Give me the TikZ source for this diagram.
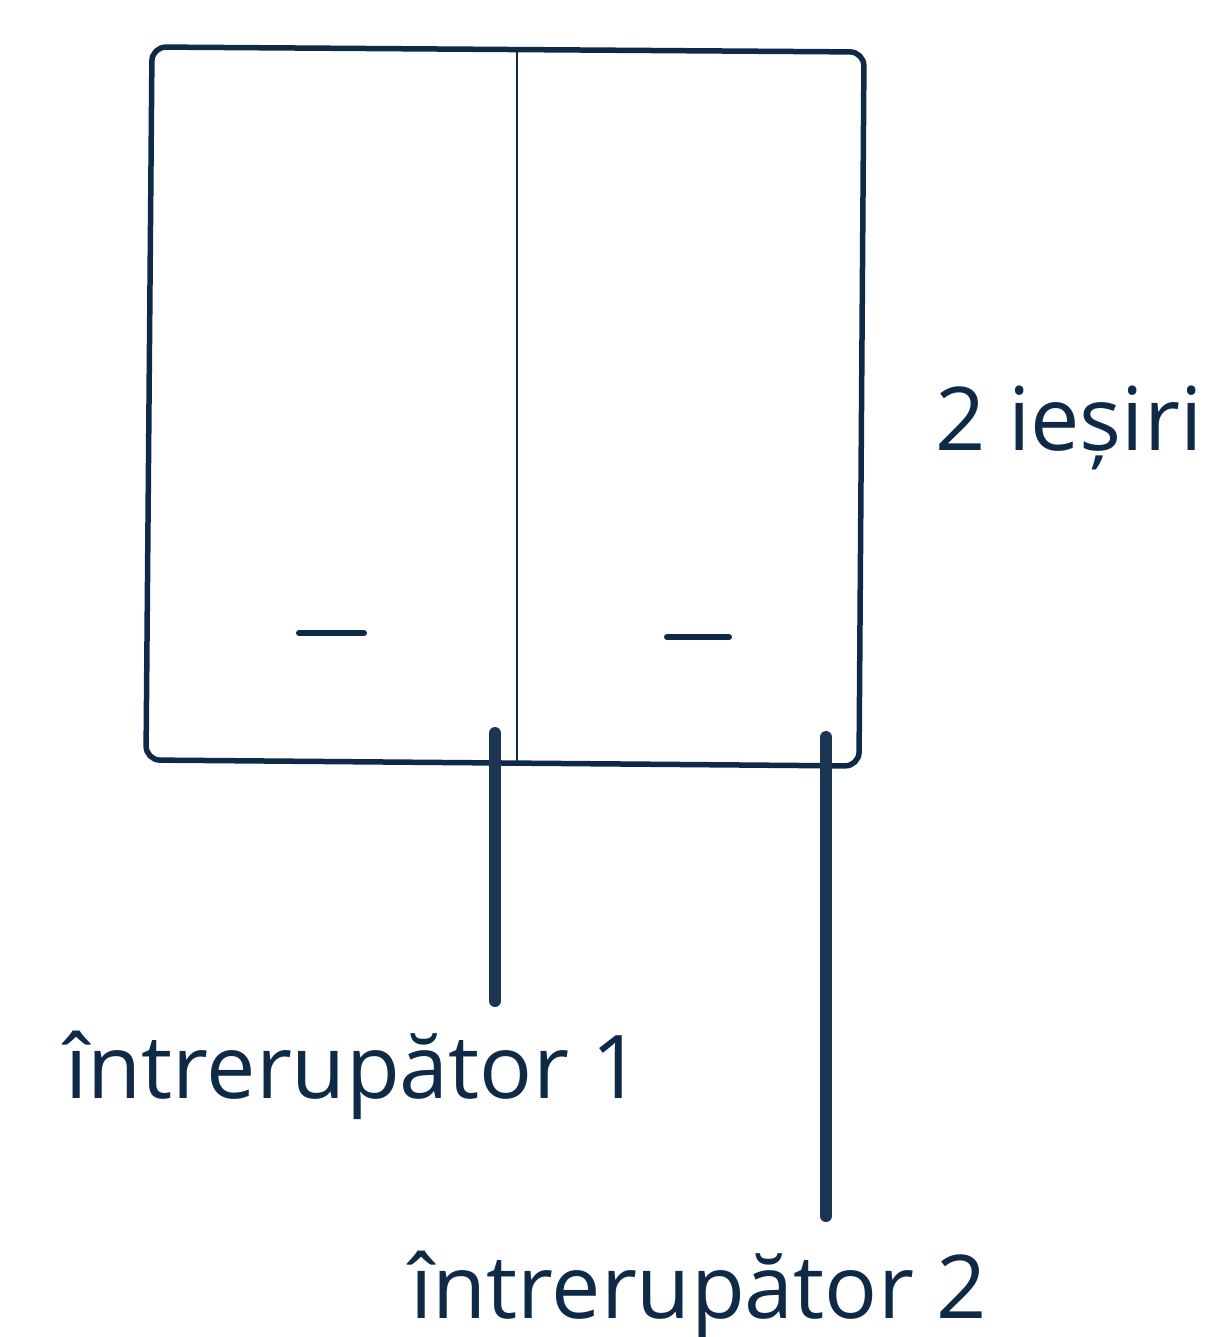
\documentclass[tikz,border=0pt]{standalone}
\usepackage{fontspec}
\setmainfont{Open Sans}
\definecolor{navy}{HTML}{0E2A47}
\definecolor{leadblue}{HTML}{1C3553}
\begin{document}
\begin{tikzpicture}[x=1pt,y=-1pt,
  lbl/.style={anchor=base west,inner sep=0pt,text=navy,font=\fontsize{88}{96}\selectfont},
  leader/.style={draw=leadblue,line width=12pt,line cap=round}]
\useasboundingbox (0,0) rectangle (1225,1337);

% switch plate
\coordinate (tl) at (152,47);
\coordinate (tr) at (864,52);
\coordinate (br) at (859,766);
\coordinate (bl) at (146,760);
\draw[navy,line width=5.5pt,rounded corners=14pt] (tl) -- (tr) -- (br) -- (bl) -- cycle;

% divider
\coordinate (dt) at (517,50);
\coordinate (db) at (517,762);
\draw[navy,line width=2.5pt] (dt) -- (db);

% marks
\coordinate (m1a) at (299,633);
\coordinate (m1b) at (364,633);
\coordinate (m2a) at (667,637);
\coordinate (m2b) at (729,637);
\draw[navy,line width=6pt,line cap=round] (m1a) -- (m1b);
\draw[navy,line width=6pt,line cap=round] (m2a) -- (m2b);

% labels
\node[lbl] (out) at (935,450) {2 ieșiri};
\node[lbl] (sw1) at (65,1098) {întrerupător 1};
\node[lbl] (sw2) at (410,1318) {întrerupător 2};

% leaders
\coordinate (l1t) at (495,733);
\coordinate (l1b) at (495,1001);
\coordinate (l2t) at (826,737);
\coordinate (l2b) at (826,1216);
\draw[leader] (l1t) -- (l1b);
\draw[leader] (l2t) -- (l2b);
\end{tikzpicture}
\end{document}
